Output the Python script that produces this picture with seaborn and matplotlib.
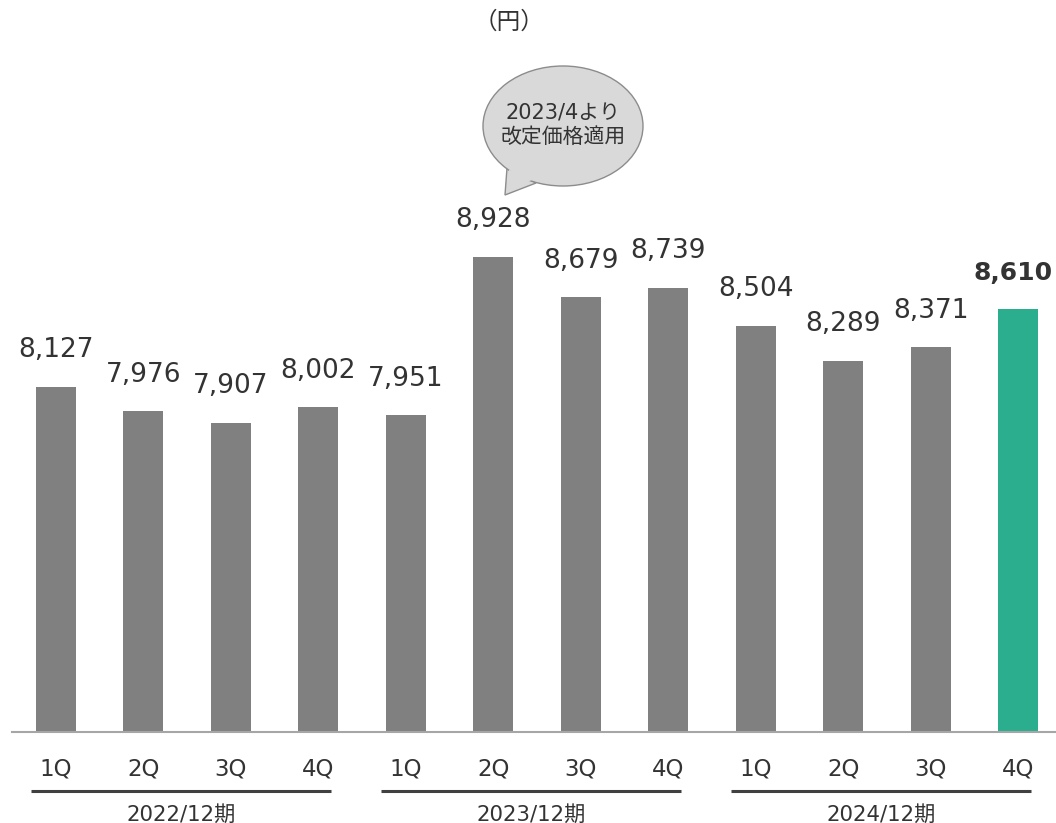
import matplotlib
matplotlib.use("Agg")
import matplotlib.pyplot as plt
import seaborn as sns
from matplotlib.patches import Ellipse, Polygon

# Data
quarters = ["1Q", "2Q", "3Q", "4Q"] * 3
values = [8127, 7976, 7907, 8002, 7951, 8928, 8679, 8739, 8504, 8289, 8371, 8610]
periods = ["2022/12期", "2023/12期", "2024/12期"]
unit_label = "（円）"
note_text = "2023/4より\n改定価格適用"

bar_gray = "#808080"
bar_green = "#2bae8e"
colors = [bar_gray] * 11 + [bar_green]

sns.set_theme(style="white")
plt.rcParams['font.family'] = ['DejaVu Sans', 'Noto Sans CJK JP']
text_color = "#333333"

W, H = 1056, 823
fig = plt.figure(figsize=(W / 100, H / 100), dpi=100)
ax = fig.add_axes([12 / W, 1 - 732 / H, 1 - 12 / W, 732 / H])

idx = list(range(len(values)))
sns.barplot(x=idx, y=values, hue=idx, palette=colors, legend=False,
            width=0.457, ax=ax, saturation=1, linewidth=0)

ax.set_xlim(-0.5, 11.43)
ax.set_ylim(6000, 10512)
ax.set_yticks([])
ax.set_ylabel("")
ax.set_xticks(idx)
ax.set_xticklabels(quarters, fontsize=16.5, color=text_color)
ax.tick_params(axis="x", length=0, pad=18)
for s in ["top", "right", "left"]:
    ax.spines[s].set_visible(False)
ax.spines["bottom"].set_color("#a6a6a6")
ax.spines["bottom"].set_linewidth(1.5)

# value labels (last one bold, nudged left to fit)
for i, v in enumerate(values):
    if i == len(values) - 1:
        ax.annotate(f"{v:,}", (i, v), xytext=(-4, 17), textcoords="offset points",
                    ha="center", va="bottom", fontsize=18, color=text_color,
                    fontweight="bold")
    else:
        ax.annotate(f"{v:,}", (i, v), xytext=(0, 17), textcoords="offset points",
                    ha="center", va="bottom", fontsize=19, color=text_color)

# period grouping lines and labels
trans = ax.get_xaxis_transform()
for g, name in enumerate(periods):
    start = g * 4 - 0.28
    end = g * 4 + 3.15
    ax.plot([start, end], [-0.0806, -0.0806], transform=trans, clip_on=False,
            color="#404040", lw=2.2, solid_capstyle="butt")
    ax.text((start + end) / 2, -0.1134, name, transform=trans, ha="center",
            va="center", fontsize=15.3, color=text_color)

# unit label
fig.text(509 / W, 1 - 22 / H, unit_label, ha="center", va="center",
         fontsize=17, color=text_color, family=['Noto Sans CJK JP'])

# speech bubble
bub_fill = "#d9d9d9"
bub_edge = "#8c8c8c"
tail = [(507 / W, 1 - 168 / H), (505 / W, 1 - 195 / H), (536 / W, 1 - 183 / H)]
fig.patches.append(Polygon(tail, closed=True, transform=fig.transFigure,
                           facecolor=bub_fill, edgecolor=bub_edge, lw=1, zorder=1))
fig.patches.append(Ellipse((563 / W, 1 - 126 / H), 160 / W, 120 / H,
                           transform=fig.transFigure, facecolor=bub_fill,
                           edgecolor=bub_edge, lw=1, zorder=2))
inner = [(509 / W, 1 - 170 / H), (507 / W, 1 - 190 / H), (532 / W, 1 - 180 / H), (532 / W, 1 - 172 / H)]
fig.patches.append(Polygon(inner, closed=True, transform=fig.transFigure,
                           facecolor=bub_fill, edgecolor="none", zorder=3))
fig.text(563 / W, 1 - 125 / H, note_text, ha="center", va="center",
         fontsize=15, color=text_color, linespacing=1.2, zorder=4)

fig.savefig("out.png", dpi=100)
